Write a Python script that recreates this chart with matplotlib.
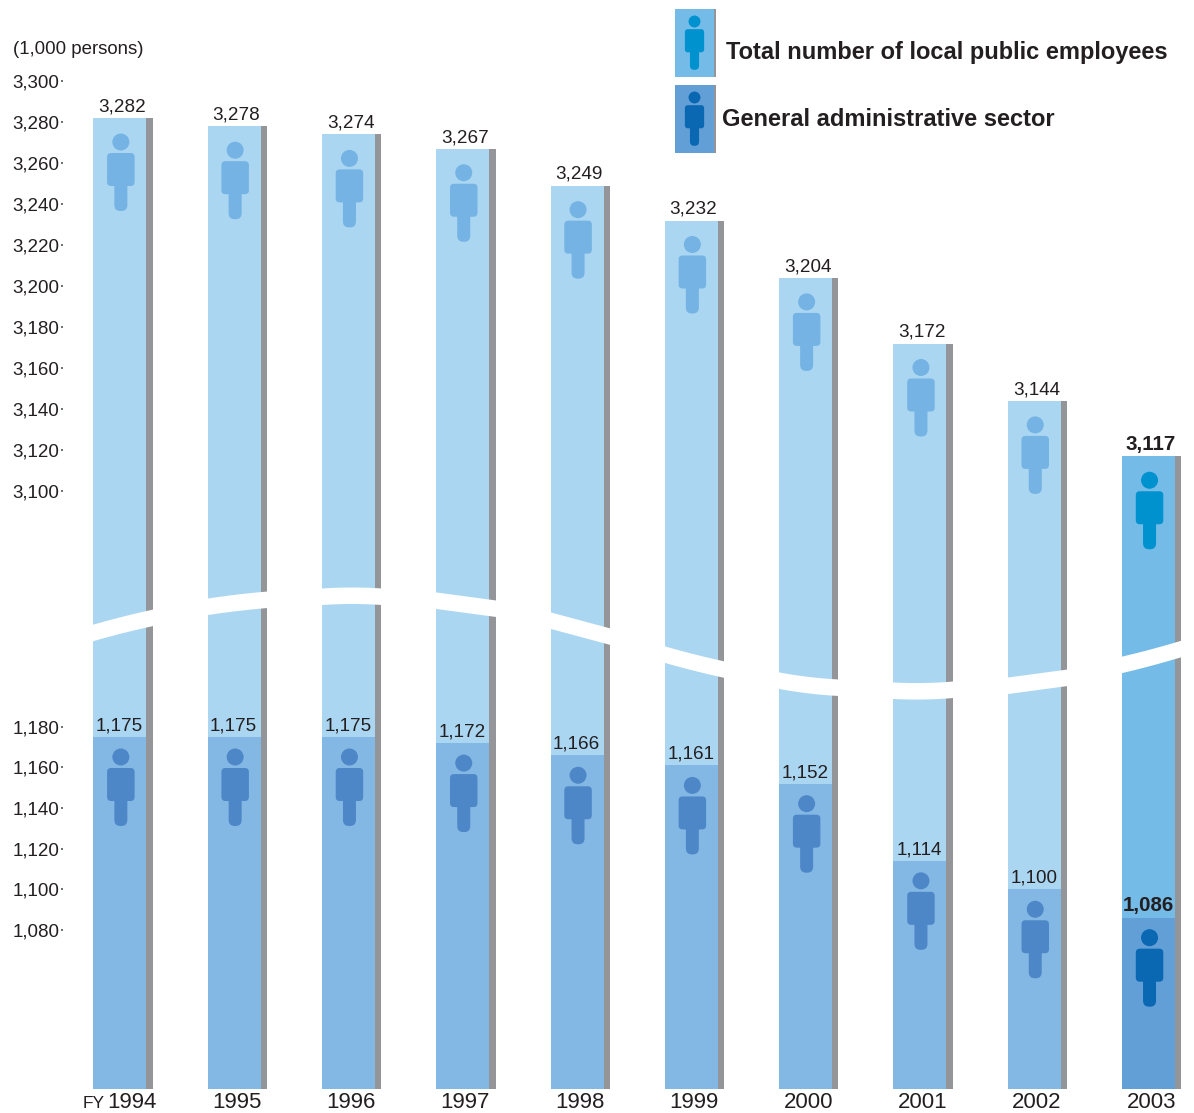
import matplotlib
matplotlib.use("Agg")
import matplotlib.pyplot as plt
from matplotlib.patches import Circle, FancyBboxPatch, Rectangle
from matplotlib.transforms import ScaledTranslation
import numpy as np

plt.rcParams['font.family'] = ['Liberation Sans', 'DejaVu Sans']

# data
years = ["1994", "1995", "1996", "1997", "1998", "1999", "2000", "2001", "2002", "2003"]
total = [3282, 3278, 3274, 3267, 3249, 3232, 3204, 3172, 3144, 3117]
general = [1175, 1175, 1175, 1172, 1166, 1161, 1152, 1114, 1100, 1086]
upper_ticks = list(range(3100, 3301, 20))
lower_ticks = list(range(1080, 1181, 20))

# wave that cuts the bars: top edge in pixels at the left, middle and right of each bar
wave_left = [624, 598, 588, 592, 612, 646, 672, 682, 677, 656]
wave_mid = [616, 594, 587, 596, 620, 654, 676.5, 682.5, 673, 648.5]
wave_right = [609, 591, 588, 600, 628, 661, 679, 681, 669, 640]
wave_gap = 16.5

# colours
light = "#abd6f2"
mid = "#84b8e4"
light_last = "#74bbe8"
mid_last = "#629fd7"
grey = "#939598"
text_col = "#231f20"

W, H = 1194, 1113
fig = plt.figure(figsize=(W / 100, H / 100), dpi=100)


def rect(left, top, right, bottom):
    return [left / W, 1 - bottom / H, (right - left) / W, (bottom - top) / H]


# px layout of the bars
first_left = 93.35
step = 114.3
bar_w = 53 / step
side_w = 6.3 / step
ax_left = 63.5
x = np.arange(len(years))
xlim = ((ax_left - first_left) / step, (W - first_left) / step)

ax_up = fig.add_axes(rect(ax_left, 0, W, 700))
ax_low = fig.add_axes(rect(ax_left, 580, W, 1089))
# two different scales on either side of the break
ax_up.set_ylim(3282 - (700 - 118) / 2.05, 3282 + 118 / 2.05)
ax_low.set_ylim(1175 - (1089 - 737) / 2.03, 1175 + (737 - 580) / 2.03)

total_cols = [light] * 9 + [light_last]
general_cols = [mid] * 9 + [mid_last]

for ax, ticks in [(ax_up, upper_ticks), (ax_low, lower_ticks)]:
    ax.set_xlim(xlim)
    ax.patch.set_alpha(0)
    for s in ax.spines.values():
        s.set_visible(False)
    ax.bar(x, total, width=bar_w, align="edge", color=total_cols)
    ax.bar(x + bar_w, total, width=side_w, align="edge", color=grey)
    ax.set_yticks(ticks, [f"{t:,}" for t in ticks])
    ax.tick_params(axis="y", length=1.6, width=1.4, color="#6d6e71", pad=1.4,
                   labelsize=13.5, labelcolor=text_col)
    ax.tick_params(axis="x", length=0)

ax_low.bar(x, general, width=bar_w, align="edge", color=general_cols)
ax_up.set_xticks([])
xc = x + (bar_w + side_w) / 2
ax_low.set_xticks(xc - 0.5 / step, years)
ax_low.tick_params(axis="x", labelsize=16, labelcolor=text_col, pad=2.4)
# first year sits right of its bar centre to leave room for FY
first = ax_low.get_xticklabels()[0]
first.set_transform(first.get_transform() + ScaledTranslation(9 / 100, 0, fig.dpi_scale_trans))

# value labels
for i in range(len(years)):
    last = i == len(years) - 1
    kw = dict(fontsize=14.8, fontweight="bold") if last else dict(fontsize=13.6)
    ax_up.annotate(f"{total[i]:,}", (x[i] + bar_w / 2, total[i]), xytext=(1.5, 4.8),
                   textcoords="offset points", ha="center", va="baseline", color=text_col, **kw)
    ax_low.annotate(f"{general[i]:,}", (x[i] + bar_w / 2, general[i]), xytext=(-0.4, 4.8),
                    textcoords="offset points", ha="center", va="baseline", color=text_col, **kw)

# overlay in pixel coordinates for the wave, figures and legend
pix = fig.add_axes([0, 0, 1, 1])
pix.set_xlim(0, W)
pix.set_ylim(H, 0)
pix.axis("off")
pix.patch.set_alpha(0)
fig.canvas.draw()


def to_px(ax, xv, yv):
    p = ax.transData.transform((xv, yv))
    return p[0], H - p[1]


def person(cx, cy, col, s=1.0):
    pix.add_patch(Circle((cx, cy), 8.5 * s, color=col, lw=0))
    pix.add_patch(FancyBboxPatch((cx - 13.75 * s + 4 * s, cy + 11 * s + 4 * s), 27.5 * s - 8 * s, 33 * s - 8 * s,
                                 boxstyle=f"round,pad={4 * s},rounding_size={4 * s}", color=col, lw=0))
    pix.add_patch(FancyBboxPatch((cx - 6.5 * s + 6 * s, cy + 38 * s), 13 * s - 12 * s, 25 * s,
                                 boxstyle=f"round,pad={6 * s},rounding_size={6 * s}", color=col, lw=0))


for i in range(len(years)):
    l = first_left + step * i
    r = l + 59.5
    xs = np.linspace(l - 1, r + 1, 24)
    curve = np.polyfit([l, (l + r) / 2, r], [wave_left[i], wave_mid[i], wave_right[i]], 2)
    top = np.polyval(curve, xs)
    pix.fill_between(xs, top, top + wave_gap, color="white", lw=0)

    cx = to_px(ax_up, x[i] + bar_w / 2, total[i])[0] + 1
    last = i == len(years) - 1
    person(cx, to_px(ax_up, x[i], total[i])[1] + 24, "#0091cf" if last else "#74b3e3")
    person(cx, to_px(ax_low, x[i], general[i])[1] + 20, "#0a67b2" if last else "#4d87c7")

# FY prefix and unit
pix.text(83, 1107.5, "FY", fontsize=12.4, color=text_col, ha="left", va="baseline")
pix.text(13, 49, "(1,000 persons)", fontsize=13.4, color=text_col, ha="left", va="center")

# legend
for top, col, pcol in [(9, light_last, "#0091cf"), (85, mid_last, "#0a67b2")]:
    pix.add_patch(Rectangle((675, top), 39, 68, color=col, lw=0))
    pix.add_patch(Rectangle((714, top), 2, 68, color=grey, lw=0))
    person(694.5, top + 12.5, pcol, 0.7)
pix.text(726, 52, "Total number of local public employees", fontsize=17, fontweight="bold",
         color=text_col, ha="left", va="center")
pix.text(722, 119, "General administrative sector", fontsize=17, fontweight="bold",
         color=text_col, ha="left", va="center")

fig.savefig("out.png", dpi=100)
